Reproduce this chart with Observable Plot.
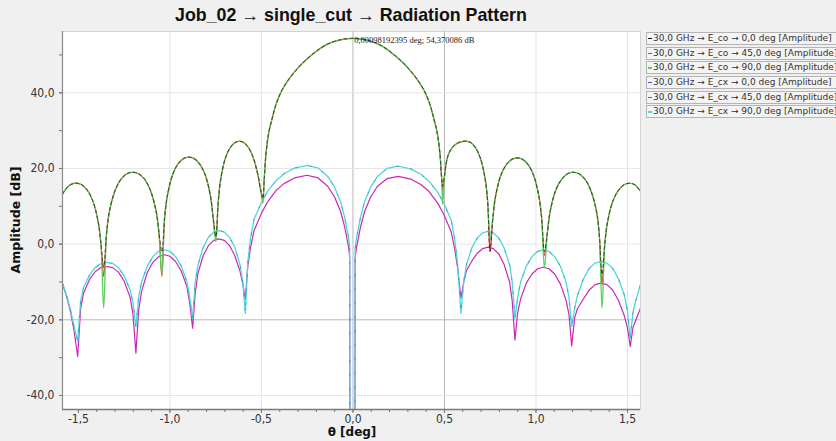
<!DOCTYPE html>
<html><head><meta charset="utf-8">
<script src="https://cdn.jsdelivr.net/npm/d3@7"></script>
<script src="https://cdn.jsdelivr.net/npm/@observablehq/plot@0.6"></script>
<style>
body{margin:0;background:#f0f0f0;}
#wrap{position:relative;width:836px;height:441px;overflow:hidden;background:#f0f0f0;}
#title{position:absolute;left:0;width:702px;top:5px;text-align:center;font:bold 17.8px "Liberation Sans",sans-serif;color:#111;white-space:nowrap;}
#chart{position:absolute;left:0;top:0;}
#legend{position:absolute;left:646px;top:32px;width:200px;}
.item{height:11px;line-height:11px;border:1px solid #b4b4b4;margin-bottom:1.7px;font:9px "DejaVu Sans",sans-serif;color:#333;white-space:nowrap;background:#f4f4f4;}
.mk{display:inline-block;width:4px;height:1.3px;vertical-align:middle;margin:0 1px 0 1px;}
#xlab{position:absolute;left:0;width:704px;top:425px;text-align:center;font:bold 12px "DejaVu Sans",sans-serif;color:#111;}
#ylab{position:absolute;left:15px;top:220px;transform:translate(-50%,-50%) rotate(-90deg);font:bold 12.5px "DejaVu Sans",sans-serif;color:#111;white-space:nowrap;}
</style></head>
<body>
<div id="wrap">
  <div id="chart"></div>
  <div id="title">Job_02 → single_cut → Radiation Pattern</div>
  <div id="legend"></div>
  <div id="xlab">θ [deg]</div>
  <div id="ylab">Amplitude [dB]</div>
</div>
<script>
// ---------- Data ----------
const seriesNames = [
  "30,0 GHz → E_co → 0,0 deg [Amplitude]",
  "30,0 GHz → E_co → 45,0 deg [Amplitude]",
  "30,0 GHz → E_co → 90,0 deg [Amplitude]",
  "30,0 GHz → E_cx → 0,0 deg [Amplitude]",
  "30,0 GHz → E_cx → 45,0 deg [Amplitude]",
  "30,0 GHz → E_cx → 90,0 deg [Amplitude]"
];
const seriesColors = ["#111111", "#e83030", "#5ccf5c", "#4a4ad8", "#c828b8", "#4fd8d8"];

const thetaCo = [
  -1.587, -1.565, -1.54, -1.508, -1.482, -1.452, -1.422, -1.392, -1.377, -1.362,
  -1.346, -1.330, -1.298, -1.267, -1.235, -1.203, -1.171, -1.139, -1.108, -1.076, -1.060, -1.044,
  -1.029, -1.014, -0.985, -0.956, -0.926, -0.897, -0.867, -0.838, -0.808, -0.779, -0.764, -0.749,
  -0.736, -0.723, -0.698, -0.672, -0.646, -0.620, -0.595, -0.569, -0.543, -0.518, -0.505, -0.492,
  -0.485, -0.475, -0.46, -0.44, -0.42, -0.39, -0.35, -0.3, -0.25, -0.2, -0.15, -0.1, -0.05, 0,
  0.05, 0.1, 0.15, 0.2, 0.25, 0.3, 0.35, 0.39, 0.42, 0.44, 0.46, 0.475, 0.485, 0.49,
  0.5, 0.508, 0.52, 0.542, 0.568, 0.594, 0.62, 0.645, 0.671, 0.697, 0.723, 0.736, 0.749,
  0.764, 0.779, 0.808, 0.838, 0.868, 0.898, 0.927, 0.957, 0.987, 1.016, 1.031, 1.046,
  1.062, 1.078, 1.109, 1.141, 1.172, 1.204, 1.235, 1.267, 1.298, 1.330, 1.345, 1.361,
  1.376, 1.391, 1.421, 1.451, 1.481, 1.51, 1.54, 1.571
];
const coE90 = [
  13.2, 14.8, 15.8, 16.1, 15.7, 14.3, 11.5, 5.9, 0.1, -16.9,
  3, 8.8, 14.4, 17.2, 18.6, 19.0, 18.6, 17.2, 14.4, 8.8, 3, -8,
  7, 12.8, 18.4, 21.2, 22.6, 23.0, 22.6, 21.2, 18.4, 12.8, 7, 0.7,
  11.2, 17, 22.6, 25.4, 26.8, 27.2, 26.8, 25.4, 22.6, 18, 14.5, 10.8,
  17, 24, 29.5, 33.5, 37, 40.5, 43.6, 46.6, 49.0, 51.0, 52.6, 53.6, 54.2, 54.37,
  54.2, 53.6, 52.6, 51.0, 49.0, 46.6, 43.6, 40.5, 37, 33.5, 29.5, 24, 17, 10.5,
  18, 21, 23.5, 25.5, 26.6, 27.1, 27.2, 26.8, 25.4, 22.6, 17, 11.2, 1.2,
  6.8, 12.6, 18.2, 21.0, 22.4, 22.8, 22.4, 21.0, 18.2, 12.6, 6.8, -6.3,
  3, 8.8, 14.4, 17.2, 18.6, 19.0, 18.6, 17.2, 14.4, 8.8, 3, -16.9,
  0.1, 5.9, 11.5, 14.3, 15.7, 16.1, 15.7, 14.0
];
const coE45 = [
  13.2, 14.8, 15.8, 16.1, 15.7, 14.3, 11.5, 5.9, 0.1, -8.5,
  3, 8.8, 14.4, 17.2, 18.6, 19.0, 18.6, 17.2, 14.4, 8.8, 3, -8.5,
  7, 12.8, 18.4, 21.2, 22.6, 23.0, 22.6, 21.2, 18.4, 12.8, 7, 1.5,
  11.2, 17, 22.6, 25.4, 26.8, 27.2, 26.8, 25.4, 22.6, 18, 14.5, 12.5,
  17, 24, 29.5, 33.5, 37, 40.5, 43.6, 46.6, 49.0, 51.0, 52.6, 53.6, 54.2, 54.37,
  54.2, 53.6, 52.6, 51.0, 49.0, 46.6, 43.6, 40.5, 37, 33.5, 29.5, 24, 17, 14,
  18, 21, 23.5, 25.5, 26.6, 27.1, 27.2, 26.8, 25.4, 22.6, 17, 11.2, -2,
  6.8, 12.6, 18.2, 21.0, 22.4, 22.8, 22.4, 21.0, 18.2, 12.6, 6.8, -3,
  3, 8.8, 14.4, 17.2, 18.6, 19.0, 18.6, 17.2, 14.4, 8.8, 3, -10.7,
  0.1, 5.9, 11.5, 14.3, 15.7, 16.1, 15.7, 14.0
];
const coE0 = [
  13.2, 14.8, 15.8, 16.1, 15.7, 14.3, 11.5, 5.9, 0.1, -6,
  3, 8.8, 14.4, 17.2, 18.6, 19.0, 18.6, 17.2, 14.4, 8.8, 3, -2,
  7, 12.8, 18.4, 21.2, 22.6, 23.0, 22.6, 21.2, 18.4, 12.8, 7, 2,
  11.2, 17, 22.6, 25.4, 26.8, 27.2, 26.8, 25.4, 22.6, 18, 14.5, 12,
  17, 24, 29.5, 33.5, 37, 40.5, 43.6, 46.6, 49.0, 51.0, 52.6, 53.6, 54.2, 54.37,
  54.2, 53.6, 52.6, 51.0, 49.0, 46.6, 43.6, 40.5, 37, 33.5, 29.5, 24, 17, 15.3,
  18, 21, 23.5, 25.5, 26.6, 27.1, 27.2, 26.8, 25.4, 22.6, 17, 11.2, -1.9,
  6.8, 12.6, 18.2, 21.0, 22.4, 22.8, 22.4, 21.0, 18.2, 12.6, 6.8, -2,
  3, 8.8, 14.4, 17.2, 18.6, 19.0, 18.6, 17.2, 14.4, 8.8, 3, -8,
  0.1, 5.9, 11.5, 14.3, 15.7, 16.1, 15.7, 14.0
];

const thetaCx = [
  -1.587, -1.565, -1.545, -1.525, -1.504,
  -1.488, -1.472, -1.440, -1.409, -1.377, -1.345, -1.313, -1.281, -1.250, -1.218, -1.202, -1.186,
  -1.171, -1.155, -1.124, -1.093, -1.062, -1.031, -1.0, -0.969, -0.938, -0.907, -0.892, -0.876,
  -0.862, -0.847, -0.818, -0.790, -0.761, -0.732, -0.703, -0.674, -0.646, -0.617, -0.602, -0.588,
  -0.575, -0.56, -0.541, -0.5, -0.466, -0.42, -0.377, -0.32, -0.251, -0.19, -0.138, -0.1, -0.068, -0.045, -0.023, -0.018, -0.016,
  0, 0.010, 0.012, 0.019, 0.041, 0.064, 0.096, 0.134, 0.186, 0.247, 0.316, 0.373, 0.416, 0.462, 0.496, 0.537, 0.556, 0.571, 0.59,
  0.605, 0.62, 0.649, 0.679, 0.708, 0.738, 0.767, 0.797, 0.826, 0.856, 0.87, 0.885,
  0.9, 0.916, 0.947, 0.978, 1.009, 1.04, 1.071, 1.102, 1.133, 1.164, 1.18, 1.195,
  1.211, 1.227, 1.259, 1.291, 1.323, 1.355, 1.387, 1.419, 1.451, 1.483, 1.499, 1.515,
  1.53, 1.55, 1.571
];
const cxE90 = [
  -10.3, -13.5, -17, -21.5, -25.7,
  -15, -11.5, -8.2, -6.2, -5.1, -4.8, -5.1, -6.2, -8.4, -12, -15.5, -21.8,
  -14, -10, -5.8, -3.3, -1.9, -1.5, -1.9, -3.3, -5.8, -10, -14, -19.6,
  -10, -5.5, -0.8, 1.8, 3.2, 3.6, 3.2, 1.8, -0.8, -5.5, -10, -18.3,
  -5, 1.5, 6.5, 11, 14, 16.8, 18.6, 20.1, 20.8, 20.1, 17.9, 15, 11.3, 7, 1.5, -1, -80,
  -80, -80, -1, 1.5, 7, 11.3, 15, 17.9, 20, 20.6, 19.9, 18.4, 16.6, 13.8, 10.8, 6.3, 1.3, -5, -18.3,
  -10, -5.5, -1, 1.6, 3.0, 3.4, 3.0, 1.6, -1, -5.5, -10, -19.6,
  -14, -10, -5.8, -3.3, -1.9, -1.5, -1.9, -3.3, -5.8, -10, -14, -21.8,
  -17, -13.5, -9.2, -6.4, -5.0, -4.6, -5.0, -6.4, -9.2, -13.5, -17.5, -24.9,
  -18, -14, -10.7
];
const cxE45 = [
  -10.5, -13.8, -17.5, -22.5, -29.7,
  -17, -13, -9.4, -7.3, -6.2, -5.9, -6.2, -7.4, -9.8, -14, -18.5, -28.8,
  -17.5, -12.5, -7.5, -4.8, -3.3, -2.8, -3.2, -4.6, -7.1, -11.3, -15.5, -22.2,
  -13, -7.7, -3.0, -0.4, 1.0, 1.4, 1.0, -0.4, -3.0, -7.2, -10.5, -14.6,
  -6, -1, 3.5, 8.2, 11.2, 14.2, 16, 17.5, 18.2, 17.5, 15.3, 12.4, 8.7, 4.5, -1, -3.5, -80,
  -80, -80, -3.5, -1, 4.5, 8.7, 12.4, 15.3, 17.3, 17.9, 17.2, 15.7, 13.9, 10.9, 7.9, 3.2, -1.3, -6, -14.3,
  -10, -7, -4.5, -2.4, -1.2, -0.8, -1.2, -2.6, -5.4, -10, -15, -25.3,
  -18, -14.5, -10.3, -7.9, -6.5, -6.1, -6.5, -7.9, -10.5, -14.8, -18.5, -26.9,
  -19.5, -17, -14.5, -12.1, -10.7, -10.3, -10.7, -12.1, -14.9, -19, -22, -27,
  -22, -19.5, -16.9
];
const cxE0 = [
  -10.3, -13.5, -17, -21.5, -25.7,
  -15, -11.5, -8.2, -6.2, -5.1, -4.8, -5.1, -6.2, -8.4, -12, -15.5, -21.8,
  -14, -10, -5.8, -3.3, -1.9, -1.5, -1.9, -3.3, -5.8, -10, -14, -19.6,
  -10, -5.5, -0.8, 1.8, 3.2, 3.6, 3.2, 1.8, -0.8, -5.5, -10, -18.3,
  -5, 1.5, 6.5, 11, 14, 16.8, 18.6, 20.1, 20.8, 20.1, 17.9, 15, 11.3, 7, 1.5, -1, -80,
  -80, -80, -1, 1.5, 7, 11.3, 15, 17.9, 20, 20.6, 19.9, 18.4, 16.6, 13.8, 10.8, 6.3, 1.3, -5, -18.3,
  -10, -5.5, -1, 1.6, 3.0, 3.4, 3.0, 1.6, -1, -5.5, -10, -19.6,
  -14, -10, -5.8, -3.3, -1.9, -1.5, -1.9, -3.3, -5.8, -10, -14, -21.8,
  -17, -13.5, -9.2, -6.4, -5.0, -4.6, -5.0, -6.4, -9.2, -13.5, -17.5, -24.9,
  -18, -14, -10.7
];

const xTickLabels = [-1.5, -1.0, -0.5, 0.0, 0.5, 1.0, 1.5];
const xMinorTicks = d3.range(-15, 16).map(i => i / 10);
const yTickLabels = [-40, -20, 0, 20, 40];
const yMinorTicks = [-40, -30, -20, -10, 0, 10, 20, 30, 40, 50];
const gridXLight = [-1.0, -0.5, 1.0, 1.5];
const gridXDark = [0.0, 0.5];
const gridYLight = [-40, 0, 20, 40];
const gridYDark = [-20];
const peakTheta = 0.00098192395, peakValue = 54.370086;
const peakLabel = "0,00098192395 deg; 54,370086 dB";
const xDomain = [-1.587, 1.571];
const yDomain = [-43.7, 56.2];

// ---------- Build tables ----------
const toRows = (th, vals, name) => th.map((t, i) => ({theta: t, value: vals[i], series: name}));
const dCoE0 = toRows(thetaCo, coE0, seriesNames[0]);
const dCoE45 = toRows(thetaCo, coE45, seriesNames[1]);
const dCoE90 = toRows(thetaCo, coE90, seriesNames[2]);
const dCxE0 = toRows(thetaCx, cxE0, seriesNames[3]);
const dCxE45 = toRows(thetaCx, cxE45, seriesNames[4]);
const dCxE90 = toRows(thetaCx, cxE90, seriesNames[5]);

const comma = d => d.toFixed(1).replace(".", ",");
const crv = "catmull-rom";

const chart = Plot.plot({
  width: 836,
  height: 441,
  marginLeft: 62,
  marginRight: 196,
  marginTop: 31,
  marginBottom: 32,
  style: {background: "transparent", fontFamily: "'Liberation Sans Narrow','DejaVu Sans Condensed','Liberation Sans',sans-serif", fontSize: "12px", color: "#333"},
  x: {domain: xDomain},
  y: {domain: yDomain},
  marks: [
    Plot.frame({fill: "white", stroke: "#d4d4d4"}),
    Plot.ruleX(gridXLight, {stroke: "#e6e6e6"}),
    Plot.ruleX(gridXDark, {stroke: "#b8b8b8"}),
    Plot.ruleY(gridYLight, {stroke: "#e6e6e6"}),
    Plot.ruleY(gridYDark, {stroke: "#b8b8b8"}),
    Plot.line(dCxE45, {x: "theta", y: "value", stroke: seriesColors[4], strokeWidth: 1.2, clip: true}),
    Plot.line(dCxE90, {x: "theta", y: "value", stroke: seriesColors[5], strokeWidth: 1.3, clip: true}),
    Plot.line(dCxE0, {x: "theta", y: "value", stroke: seriesColors[3], strokeWidth: 1, strokeDasharray: "2,12", strokeOpacity: 0.45, clip: true}),
    Plot.line(dCoE45, {x: "theta", y: "value", stroke: seriesColors[1], strokeWidth: 1.2, curve: crv, clip: true}),
    Plot.line(dCoE90, {x: "theta", y: "value", stroke: seriesColors[2], strokeWidth: 1.3, curve: crv, clip: true}),
    Plot.line(dCoE0, {x: "theta", y: "value", stroke: seriesColors[0], strokeWidth: 1, strokeDasharray: "3,3", strokeOpacity: 0.7, curve: crv, clip: true}),
    Plot.text([{theta: peakTheta, value: peakValue, label: peakLabel}], {
      x: "theta", y: "value", text: "label", textAnchor: "start", dx: 1, dy: 2,
      fontFamily: "'Liberation Serif',serif", fontSize: 8.5, fill: "#222"
    }),
    Plot.ruleY([yDomain[0]], {stroke: "#7a7a7a", strokeWidth: 1.6}),
    Plot.ruleX([xDomain[0]], {stroke: "#8a8a8a", strokeWidth: 1.2}),
    Plot.axisX(xMinorTicks, {tickSize: 3, tickFormat: () => "", stroke: "#777", label: null}),
    Plot.axisX(xTickLabels, {tickSize: 4, tickPadding: 1, tickFormat: comma, fill: "#333", stroke: "#777", fontSize: 12, label: null}),
    Plot.axisY(yMinorTicks, {tickSize: 3, tickFormat: () => "", stroke: "#777", label: null}),
    Plot.axisY(yTickLabels, {tickSize: 3, tickPadding: 5, tickFormat: comma, fill: "#333", stroke: "#777", fontSize: 12, label: null})
  ]
});
document.getElementById("chart").appendChild(chart);

// ---------- Legend ----------
const legend = document.getElementById("legend");
seriesNames.forEach((name, i) => {
  const it = document.createElement("div");
  it.className = "item";
  const mk = document.createElement("span");
  mk.className = "mk";
  mk.style.background = seriesColors[i];
  it.appendChild(mk);
  it.appendChild(document.createTextNode(name));
  legend.appendChild(it);
});
</script>
</body></html>
